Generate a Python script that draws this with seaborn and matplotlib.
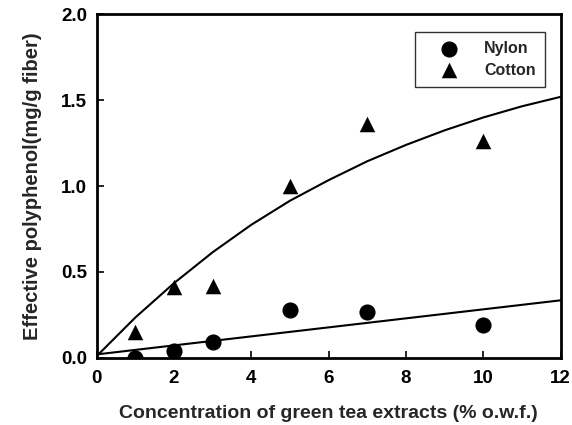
import matplotlib
matplotlib.use("Agg")
import matplotlib.pyplot as plt
import seaborn as sns
import pandas as pd

# Measured uptake of green tea polyphenol on each fiber
conc = [1, 2, 3, 5, 7, 10]
nylon = [0.00, 0.04, 0.09, 0.28, 0.265, 0.19]
cotton = [0.15, 0.41, 0.42, 1.00, 1.36, 1.265]

# Fitted trend curves
nylon_fit_x = [0, 12]
nylon_fit_y = [0.02, 0.335]
cotton_fit_x = [0, 1, 2, 3, 4, 5, 6, 7, 8, 9, 10, 11, 12]
cotton_fit_y = [0.01, 0.235, 0.435, 0.615, 0.775, 0.915, 1.035, 1.145, 1.24, 1.325, 1.40, 1.465, 1.52]

sns.set_theme(style="ticks")
plt.rcParams["font.family"] = ["Liberation Sans", "DejaVu Sans"]
plt.rcParams["font.weight"] = "bold"

fig = plt.figure(figsize=(5.72, 4.25), dpi=100)
ax = fig.add_axes([0.169, 0.158, 0.811, 0.808])

df = pd.DataFrame({"conc": conc * 2,
                   "value": nylon + cotton,
                   "fiber": ["Nylon"] * len(conc) + ["Cotton"] * len(conc)})

sns.lineplot(x=nylon_fit_x, y=nylon_fit_y, ax=ax, color="black", linewidth=1.5)
sns.lineplot(x=cotton_fit_x, y=cotton_fit_y, ax=ax, color="black", linewidth=1.5)

sns.scatterplot(data=df[df.fiber == "Nylon"], x="conc", y="value", ax=ax,
                marker="o", s=135, color="black", linewidth=0, label="Nylon", zorder=3)
sns.scatterplot(data=df[df.fiber == "Cotton"], x="conc", y="value", ax=ax,
                marker="^", s=125, color="black", linewidth=0, label="Cotton", zorder=3)

ax.set_xlim(0, 12)
ax.set_ylim(0, 2.0)
ax.set_xticks([0, 2, 4, 6, 8, 10, 12])
ax.set_yticks([0.0, 0.5, 1.0, 1.5, 2.0])
ax.set_yticklabels(["0.0", "0.5", "1.0", "1.5", "2.0"])
ax.tick_params(direction="in", length=5, width=1.2, labelsize=13.5, pad=7, colors="black")
ax.tick_params(axis="x", pad=9)
for lab in ax.get_xticklabels() + ax.get_yticklabels():
    lab.set_fontweight("bold")
for side in ["top", "right", "left", "bottom"]:
    ax.spines[side].set_visible(True)
    ax.spines[side].set_linewidth(2)
    ax.spines[side].set_color("black")

ax.set_xlabel("Concentration of green tea extracts (% o.w.f.)", fontsize=14,
              fontweight="bold", labelpad=13)
ax.set_ylabel("Effective polyphenol(mg/g fiber)", fontsize=14.5,
              fontweight="bold", labelpad=14)

leg = ax.legend(loc="upper right", bbox_to_anchor=(0.967, 0.95), frameon=True,
                fancybox=False, edgecolor="black", fontsize=11.5,
                handletextpad=0.7, borderpad=0.6, labelspacing=0.4,
                borderaxespad=0, handlelength=3.0)
leg.get_frame().set_linewidth(1.0)
for t in leg.get_texts():
    t.set_fontweight("bold")

fig.savefig("out.png", dpi=100)
